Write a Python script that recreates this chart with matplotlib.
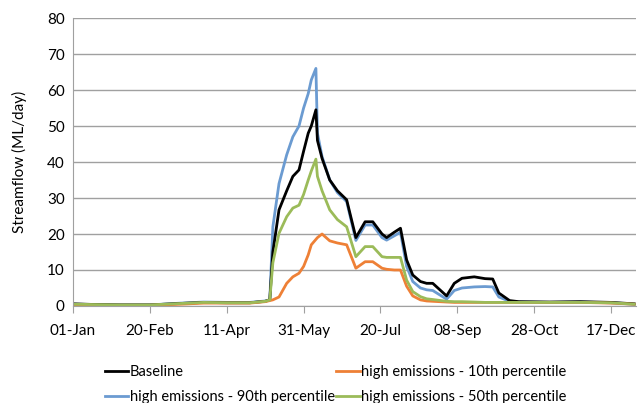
import matplotlib
matplotlib.use("Agg")
import matplotlib.pyplot as plt

plt.rcParams['font.family'] = ['Lato', 'DejaVu Sans']

# day of year for each sample
days = [0, 15, 30, 50, 70, 85, 100, 115, 125, 128, 130, 134, 139, 143, 147, 150,
        153, 155, 158, 159, 162, 167, 172, 178, 184, 190, 195, 201, 204, 209, 213,
        217, 221, 226, 230, 234, 243, 248, 253, 261, 268, 273, 277, 284, 290, 310,
        330, 350, 365]

baseline = [0.6, 0.4, 0.3, 0.3, 0.7, 1.0, 0.9, 0.9, 1.3, 1.7, 15, 26.7, 32, 36, 37.8, 43,
            48, 50, 54.5, 46, 41, 35, 32, 29.5, 19, 23.4, 23.4, 20, 19, 20.5, 21.6,
            12.8, 8.6, 6.8, 6.3, 6.3, 2.8, 6.3, 7.7, 8.1, 7.6, 7.5, 3.6, 1.5, 1.2, 1.1,
            1.2, 1.0, 0.6]

p10 = [0.3, 0.2, 0.2, 0.2, 0.5, 0.8, 0.8, 0.8, 1.2, 1.5, 1.7, 2.5, 6.3, 8.1, 9.1, 11,
       14.2, 17, 18.5, 19, 20, 18.1, 17.5, 17, 10.5, 12.3, 12.3, 10.5, 10.2, 10, 10,
       5.5, 2.8, 1.7, 1.4, 1.3, 1.1, 1.0, 1.0, 1.0, 1.0, 1.0, 1.0, 1.0, 1.0, 1.0,
       1.0, 0.8, 0.5]

p90 = [0.5, 0.4, 0.3, 0.3, 0.8, 1.1, 1.0, 1.0, 1.4, 1.7, 22, 34, 42, 47, 50, 55,
       59, 62.8, 66, 48, 41.5, 35, 31.5, 29, 18.2, 22.5, 22.5, 19, 18.3, 19.5, 20.5,
       11, 6.8, 5, 4.5, 4.3, 1.9, 4.3, 5.0, 5.3, 5.4, 5.3, 2.5, 1.3, 1.1, 1.0,
       1.1, 0.9, 0.5]

p50 = [0.5, 0.4, 0.3, 0.3, 0.7, 1.0, 0.9, 0.9, 1.3, 1.7, 12, 20.2, 24.8, 27.2, 28, 31,
       35, 37.5, 40.8, 36, 32, 26.7, 24, 22, 13.7, 16.5, 16.5, 13.7, 13.5, 13.5, 13.5,
       7.2, 4, 2.6, 2.0, 1.8, 1.3, 1.2, 1.2, 1.1, 1.0, 1.0, 1.0, 1.0, 1.0, 1.0,
       1.0, 0.9, 0.5]

tick_days = [0, 50, 100, 150, 200, 250, 300, 350]
tick_labels = ["01-Jan", "20-Feb", "11-Apr", "31-May", "20-Jul", "08-Sep", "28-Oct", "17-Dec"]

fig = plt.figure(figsize=(6.38, 4.03), dpi=100)
ax = fig.add_axes([0.1144, 0.2407, 0.882, 0.7146])

l90, = ax.plot(days, p90, color="#6b9bd1", lw=2, label="high emissions - 90th percentile")
lb, = ax.plot(days, baseline, color="black", lw=2, label="Baseline")
l10, = ax.plot(days, p10, color="#ee8036", lw=2, label="high emissions - 10th percentile")
l50, = ax.plot(days, p50, color="#9bbb59", lw=2, label="high emissions - 50th percentile")

ax.set_xlim(0, 366)
ax.set_ylim(0, 80)
ax.set_yticks(range(0, 81, 10))
ax.set_xticks(tick_days)
ax.set_xticklabels(tick_labels)
ax.tick_params(axis="both", labelsize=11, colors="black")
ax.tick_params(axis="x", length=5, color="#a0a0a0", pad=8)
ax.tick_params(axis="y", length=0, pad=6)
ax.yaxis.grid(True, color="#a0a0a0", lw=1)
ax.set_axisbelow(True)
for s in ["top", "right"]:
    ax.spines[s].set_visible(False)
ax.spines["left"].set_color("#a0a0a0")
ax.spines["bottom"].set_color("#a0a0a0")
ax.set_ylabel("Streamflow (ML/day)", fontsize=11, labelpad=14)

fig.legend([lb, l90, l10, l50],
           [h.get_label() for h in [lb, l90, l10, l50]],
           loc="lower left", bbox_to_anchor=(0.144, -0.035), ncol=2,
           frameon=False, fontsize=10.5, handlelength=1.6, handletextpad=0.1,
           columnspacing=0.1, labelspacing=0.75)

fig.savefig("out.png", dpi=100)
